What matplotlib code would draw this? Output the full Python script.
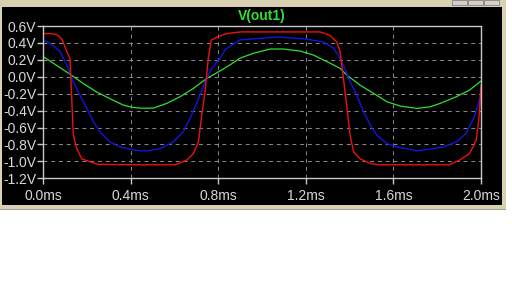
import matplotlib
matplotlib.use("Agg")
import matplotlib.pyplot as plt
from matplotlib.patches import Rectangle

# values (time in ms, volts)
t_red = [0.0, 0.03, 0.061, 0.084, 0.107, 0.122, 0.137, 0.153, 0.176, 0.213, 0.251, 0.40,
         0.602, 0.656, 0.686, 0.709, 0.724, 0.739, 0.754, 0.767, 0.793, 0.838, 0.899, 1.1,
         1.265, 1.31, 1.341, 1.356, 1.379, 1.402, 1.418, 1.448, 1.494, 1.53, 1.855, 1.902,
         1.948, 1.978, 1.99, 1.996, 2.0]
v_red = [0.51, 0.51, 0.50, 0.45, 0.30, 0.22, -0.69, -0.85, -0.97, -1.005, -1.035, -1.04,
         -1.04, -0.985, -0.906, -0.77, -0.45, -0.18, 0.22, 0.43, 0.47, 0.51, 0.53, 0.53,
         0.53, 0.49, 0.41, 0.30, -0.18, -0.69, -0.89, -0.97, -1.025, -1.04, -1.04, -0.985,
         -0.906, -0.75, -0.51, -0.28, -0.10]

t_blue = [0.0, 0.03, 0.076, 0.107, 0.137, 0.168, 0.198, 0.229, 0.259, 0.305, 0.351, 0.404,
          0.442, 0.48, 0.533, 0.594, 0.64, 0.678, 0.709, 0.739, 0.77, 0.808, 0.831, 0.861,
          0.899, 0.97, 1.074, 1.2, 1.28, 1.326, 1.356, 1.371, 1.402, 1.433, 1.463, 1.494,
          1.524, 1.57, 1.616, 1.707, 1.768, 1.826, 1.887, 1.932, 1.97, 1.993, 2.0]
v_blue = [0.43, 0.395, 0.30, 0.14, -0.06, -0.22, -0.37, -0.53, -0.65, -0.77, -0.83, -0.86,
          -0.875, -0.875, -0.85, -0.77, -0.65, -0.45, -0.26, -0.06, 0.10, 0.22, 0.32, 0.375,
          0.435, 0.45, 0.47, 0.446, 0.41, 0.34, 0.22, 0.14, -0.06, -0.22, -0.41, -0.57,
          -0.69, -0.79, -0.83, -0.875, -0.855, -0.83, -0.77, -0.67, -0.47, -0.275, -0.22]

t_green = [0.0, 0.046, 0.122, 0.183, 0.244, 0.305, 0.366, 0.404, 0.45, 0.503, 0.564, 0.625,
           0.686, 0.747, 0.808, 0.853, 0.899, 0.96, 1.036, 1.097, 1.173, 1.234, 1.295, 1.356,
           1.387, 1.448, 1.509, 1.57, 1.631, 1.707, 1.768, 1.813, 1.887, 1.948, 2.0]
v_green = [0.237, 0.16, 0.03, -0.08, -0.18, -0.26, -0.335, -0.36, -0.372, -0.37, -0.315, -0.236,
           -0.137, -0.02, 0.07, 0.14, 0.22, 0.277, 0.328, 0.328, 0.304, 0.257, 0.18, 0.10,
           0.02, -0.10, -0.196, -0.295, -0.346, -0.374, -0.355, -0.315, -0.236, -0.157, -0.05]

x_ticks = [0.0, 0.4, 0.8, 1.2, 1.6, 2.0]
x_labels = ["0.0ms", "0.4ms", "0.8ms", "1.2ms", "1.6ms", "2.0ms"]
y_ticks = [0.6, 0.4, 0.2, 0.0, -0.2, -0.4, -0.6, -0.8, -1.0, -1.2]
y_labels = ["0.6V", "0.4V", "0.2V", "0.0V", "-0.2V", "-0.4V", "-0.6V", "-0.8V", "-1.0V", "-1.2V"]

W, H = 512, 300
fig = plt.figure(figsize=(W / 100, H / 100), dpi=100)
fig.patch.set_facecolor("white")

def px_rect(x0, y0, x1, y1, **kw):
    # rectangle in screen pixels (y down), drawn behind the axes
    r = Rectangle((x0 / W, 1 - y1 / H), (x1 - x0) / W, (y1 - y0) / H,
                  transform=fig.transFigure, zorder=-10, **kw)
    fig.add_artist(r)

# window frame
px_rect(0, 0, 506, 210, facecolor="#d8d0b0", edgecolor="none")
px_rect(0, 209, 506, 210, facecolor="#a09c90", edgecolor="none")
px_rect(2, 7, 502, 205, facecolor="black", edgecolor="none")
for bx in [452, 468, 484]:
    px_rect(bx, 0, bx + 15, 5, facecolor="#d4d0c8", edgecolor="#808080", linewidth=0.6)

ax = fig.add_axes([43.3 / W, 1 - 178.3 / H, (481 - 43.3) / W, (178.3 - 26) / H])
ax.set_facecolor("black")

ax.plot(t_green, v_green, color="#30e030", lw=0.9)
ax.plot(t_blue, v_blue, color="#1414e0", lw=1.0)
ax.plot(t_red, v_red, color="#f01010", lw=1.0)

ax.set_xlim(0, 2.0)
ax.set_ylim(-1.2, 0.6)
ax.set_xticks(x_ticks)
ax.set_xticklabels(x_labels)
ax.set_yticks(y_ticks)
ax.set_yticklabels(y_labels)
ax.grid(True, color="#8c8c8c", linestyle=(0, (4, 4)), linewidth=0.7)

for s in ax.spines.values():
    s.set_color("#c8c8c8")
    s.set_linewidth(1.0)
ax.tick_params(colors="#c8c8c8", length=4, width=1.0)
ax.tick_params(axis="y", pad=1)
ax.tick_params(axis="x", pad=4)
for lab in ax.get_xticklabels() + ax.get_yticklabels():
    lab.set_family("Liberation Sans")
    lab.set_fontsize(10)
    lab.set_color("#d8d8d8")

fig.text(262 / W, 1 - 16 / H, "V(out1)", color="#30e030", fontsize=10,
         fontweight="bold", family="Liberation Sans", ha="center", va="center")

fig.savefig("out.png", dpi=100, facecolor=fig.get_facecolor())
